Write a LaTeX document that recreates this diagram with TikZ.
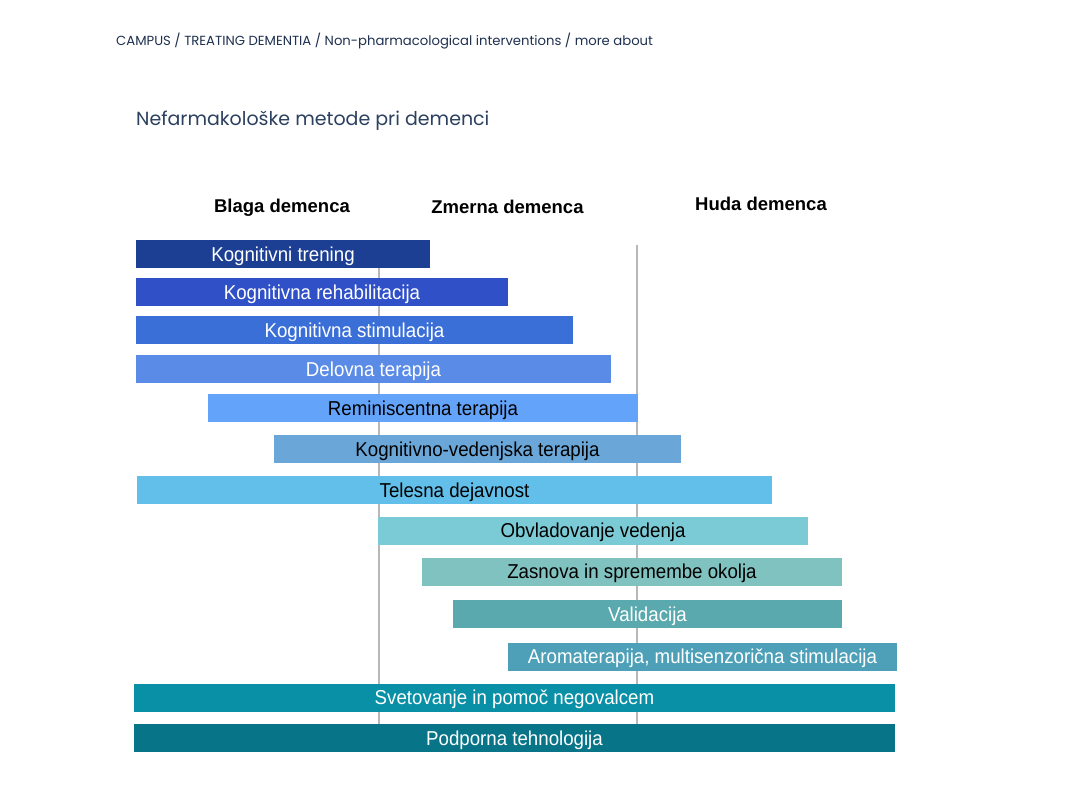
\documentclass[tikz,border=0pt]{standalone}
\usepackage{fontspec}
\setmainfont{Liberation Sans}
\newfontfamily\headfont{Poppins}
\newfontfamily\barfont[FakeStretch=0.93]{Liberation Sans}
\begin{document}
\begin{tikzpicture}[x=1pt,y=-1pt,
  bar/.style={inner sep=0pt, minimum height=28pt, text height=16pt, text depth=2pt, font=\barfont\fontsize{20.1}{22}\selectfont, text=#1},
  bar/.default=white,
  phase/.style={anchor=base, inner sep=0pt, font=\bfseries\fontsize{18.5}{22}\selectfont, text=black},
  grid/.style={draw=black!28, line width=1.5pt}]
\useasboundingbox[fill=white] (0,0) rectangle (1067,800);
\definecolor{c1}{HTML}{1C3F94}
\definecolor{c2}{HTML}{3050C8}
\definecolor{c3}{HTML}{3A6FD8}
\definecolor{c4}{HTML}{5A8BE6}
\definecolor{c5}{HTML}{63A4FA}
\definecolor{c6}{HTML}{6AA7D8}
\definecolor{c7}{HTML}{62BFEA}
\definecolor{c8}{HTML}{7ACBD5}
\definecolor{c9}{HTML}{80C2BF}
\definecolor{c10}{HTML}{5AA9AE}
\definecolor{c11}{HTML}{4DA0B8}
\definecolor{c12}{HTML}{0A90A6}
\definecolor{c13}{HTML}{087488}
\definecolor{navy}{HTML}{1F3150}
\definecolor{navyb}{HTML}{2C4060}

\node[anchor=west, inner sep=0pt, text=navy, font=\headfont\fontsize{13.2}{15}\selectfont] (crumb) at (116,41) {CAMPUS / TREATING DEMENTIA / Non-pharmacological interventions / more about};
\node[anchor=west, inner sep=0pt, text=navyb, font=\headfont\fontsize{19}{22}\selectfont] (title) at (136,121) {Nefarmakološke metode pri demenci};

\node[phase] (blaga) at (282,212) {Blaga demenca};
\node[phase] (zmerna) at (507.5,213) {Zmerna demenca};
\node[phase] (huda) at (761,210.5) {Huda demenca};

\coordinate (g1t) at (379,245);
\coordinate (g1b) at (379,724);
\coordinate (g2t) at (637,245);
\coordinate (g2b) at (637,724);
\draw[grid] (g1t) -- (g1b);
\draw[grid] (g2t) -- (g2b);

\node[bar, fill=c1, minimum width=294pt] (b1) at (283,254) {Kognitivni trening};
\node[bar, fill=c2, minimum width=372pt] (b2) at (322,292) {Kognitivna rehabilitacija};
\node[bar, fill=c3, minimum width=437pt] (b3) at (354.5,330) {Kognitivna stimulacija};
\node[bar, fill=c4, minimum width=475pt] (b4) at (373.5,369) {Delovna terapija};
\node[bar=black, fill=c5, minimum width=430pt] (b5) at (423,408) {Reminiscentna terapija};
\node[bar=black, fill=c6, minimum width=407pt] (b6) at (477.5,449) {Kognitivno-vedenjska terapija};
\node[bar=black, fill=c7, minimum width=635pt] (b7) at (454.5,490) {Telesna dejavnost};
\node[bar=black, fill=c8, minimum width=430pt] (b8) at (593,530.5) {Obvladovanje vedenja};
\node[bar=black, fill=c9, minimum width=420pt] (b9) at (632,571.5) {Zasnova in spremembe okolja};
\node[bar, fill=c10, minimum width=389pt] (b10) at (647.5,614) {Validacija};
\node[bar, fill=c11, minimum width=389pt] (b11) at (702.5,656.5) {Aromaterapija, multisenzorična stimulacija};
\node[bar, fill=c12, minimum width=761pt] (b12) at (514.5,697.5) {Svetovanje in pomoč negovalcem};
\node[bar, fill=c13, minimum width=761pt] (b13) at (514.5,738) {Podporna tehnologija};
\end{tikzpicture}
\end{document}
